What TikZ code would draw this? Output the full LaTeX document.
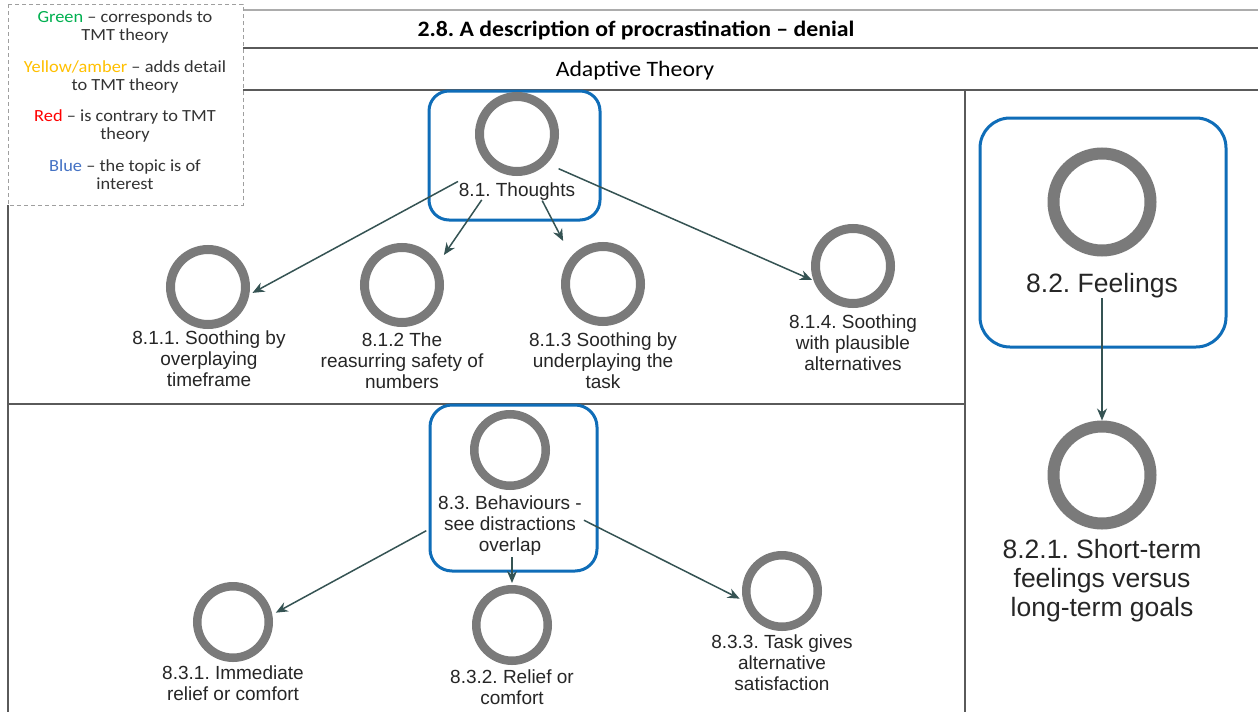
\documentclass[tikz,border=0pt]{standalone}
\usepackage{fontspec}
\setmainfont{Liberation Sans}
\newfontfamily\calib[FakeStretch=1.08]{Carlito}
\usetikzlibrary{calc,arrows.meta}
\frenchspacing
\definecolor{ringgray}{HTML}{7A7A7A}
\definecolor{boxblue}{HTML}{0F6DB8}
\definecolor{linkcol}{HTML}{355353}
\definecolor{framegray}{HTML}{5A5A5A}
\definecolor{labelcol}{HTML}{262626}
\definecolor{legendcol}{HTML}{333333}
\definecolor{tmtgreen}{HTML}{00B050}
\definecolor{tmtamber}{HTML}{FFC000}
\definecolor{tmtred}{HTML}{FF0000}
\definecolor{tmtblue}{HTML}{4472C4}
\begin{document}
\begin{tikzpicture}[x=1pt,y=-1pt,
  ring/.style={circle,draw=ringgray,line width=9pt,minimum size=75pt,inner sep=0pt},
  ringS/.style={ring,line width=8.5pt,minimum size=71.5pt},
  ringL/.style={ring,line width=12pt,minimum size=97pt},
  lbl/.style={anchor=north,align=center,inner sep=0pt,outer sep=0pt,text=labelcol,
    font=\fontsize{19}{21}\selectfont},
  lblL/.style={lbl,font=\fontsize{26.5}{29}\selectfont},
  focus/.style={draw=boxblue,line width=3pt,rounded corners=20pt,inner sep=0pt},
  link/.style={draw=linkcol,line width=1.5pt,-{Stealth[length=12pt,width=10pt]}},
  frame/.style={draw=framegray,line width=1.8pt},
  legendtxt/.style={align=center,inner sep=0pt,text=legendcol,
    font=\calib\fontsize{17}{18}\selectfont},
]
\useasboundingbox (0,0) rectangle (1258,712);
\fill[white] (0,0) rectangle (1258,712);

% table rules
\draw[frame,draw=gray!65,line width=2.6pt] (243,10) -- (1258,10);
\draw[frame] (243,48) -- (1258,48);
\draw[frame] (243,90) -- (1258,90);
\draw[frame] (8,205) -- (8,712);
\draw[frame] (8,404) -- (965,404);
\draw[frame] (965,90) -- (965,712);

% legend
\draw[draw=gray!75,line width=1pt,dash pattern=on 4pt off 3pt] (8,4) rectangle (243,205);
\node[legendtxt] (lgG) at (125,27) {\textcolor{tmtgreen}{Green} – corresponds to\\TMT theory};
\node[legendtxt] (lgY) at (125,77) {\textcolor{tmtamber}{Yellow/amber} – adds detail\\to TMT theory};
\node[legendtxt] (lgR) at (125,126) {\textcolor{tmtred}{Red} – is contrary to TMT\\theory};
\node[legendtxt] (lgB) at (125,175) {\textcolor{tmtblue}{Blue} – the topic is of\\interest};

% headings
\node[font=\calib\bfseries\fontsize{22}{26}\selectfont,text=black] (title) at (636,30)
  {2.8. A description of procrastination – denial};
\node[font=\calib\fontsize{22}{26}\selectfont,text=black] (adaptive) at (635,71) {Adaptive Theory};

% highlighted parent nodes
\node[focus,minimum width=171pt,minimum height=129pt] (f81) at (514.5,155.5) {};
\node[focus,minimum width=167pt,minimum height=166pt,rounded corners=22pt] (f83) at (513.5,488) {};
\node[focus,minimum width=246pt,minimum height=229pt,rounded corners=30pt] (f82) at (1103,232.5) {};

% 8.1 thoughts
\node[ring] (c81) at (517,134) {};
\node[lbl] (t81) at (517,183) {8.1. Thoughts};
\node[ring] (c811) at (208,287) {};
\node[lbl] (t811) at (209,331) {8.1.1. Soothing by\\overplaying\\timeframe};
\node[ring] (c812) at (402,285) {};
\node[lbl] (t812) at (402,333) {8.1.2 The\\reasurring safety of\\numbers};
\node[ring] (c813) at (603,284) {};
\node[lbl] (t813) at (603,333) {8.1.3 Soothing by\\underplaying the\\task};
\node[ring] (c814) at (853,266) {};
\node[lbl] (t814) at (853,315) {8.1.4. Soothing\\with plausible\\alternatives};

% 8.3 behaviours
\node[ringS] (c83) at (510,450) {};
\node[lbl] (t83) at (510,496) {8.3. Behaviours -\\see distractions\\overlap};
\node[ringS] (c831) at (233,622) {};
\node[lbl] (t831) at (233,666) {8.3.1. Immediate\\relief or comfort};
\node[ringS] (c832) at (512,625) {};
\node[lbl] (t832) at (512,670) {8.3.2. Relief or\\comfort};
\node[ringS] (c833) at (782,591) {};
\node[lbl] (t833) at (782,635) {8.3.3. Task gives\\alternative\\satisfaction};

% 8.2 feelings
\node[ringL] (c82) at (1102,202) {};
\node[lblL] (t82) at (1102,273.5) {8.2. Feelings};
\node[ringL] (c821) at (1102,475) {};
\node[lblL] (t821) at (1102,539.5) {8.2.1. Short-term\\feelings versus\\long-term goals};

% centres of each item (ring plus caption)
\coordinate (i81) at (516,150);
\coordinate (i811) at (208,317);
\coordinate (i812) at (402,316);
\coordinate (i813) at (602,316);
\coordinate (i814) at (853,298);
\coordinate (i83) at (512,484);
\coordinate (i831) at (233,636);
\coordinate (i832) at (512,643);
\coordinate (i833) at (782,620);

% connectors
\draw[link] ($(i81)!66pt!(i811)$) -- ($(i811)!50.6pt!(i81)$);
\draw[link] ($(i81)!60.5pt!(i812)$) -- ($(i812)!74pt!(i81)$);
\draw[link] ($(i81)!57pt!(i813)$) -- ($(i813)!84.5pt!(i81)$);
\draw[link] ($(i81)!46.5pt!(i814)$) -- ($(i814)!44.8pt!(i81)$);
\draw[link] ($(i83)!97.6pt!(i831)$) -- ($(i831)!48.8pt!(i83)$);
\draw[link] ($(i83)!73pt!(i832)$) -- ($(i832)!60pt!(i83)$);
\draw[link] ($(i83)!80.5pt!(i833)$) -- ($(i833)!47.4pt!(i83)$);
\draw[link] (t82.south) -- (c821.north);
\end{tikzpicture}
\end{document}
